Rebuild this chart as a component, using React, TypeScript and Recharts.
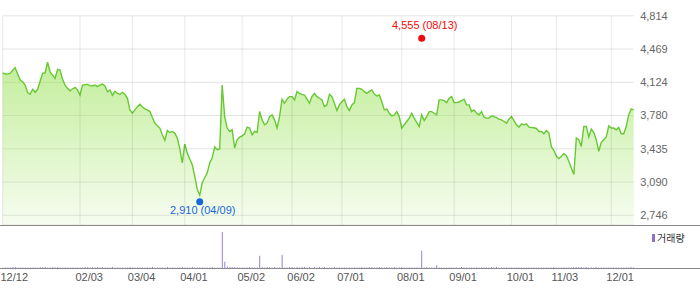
import { AreaChart, Area, BarChart, Bar, XAxis, YAxis, CartesianGrid, ReferenceDot, ReferenceLine, Legend } from 'recharts';

// closing prices, one per trading day (12/12 .. early 12/xx)
const prices = [
  4223, 4210, 4212, 4217, 4251, 4275, 4210, 4148, 4130, 4096,
  4017, 4000, 4052, 4021, 4052, 4135, 4217, 4223, 4333, 4233,
  4199, 4165, 4258, 4251, 4155, 4096, 4062, 4037, 4055, 4072,
  4045, 3993, 4096, 4100, 4103, 4090, 4086, 4096, 4079, 4096,
  4106, 4086, 4027, 4045, 3990, 4031, 4010, 4000, 4021, 4000,
  3959, 3838, 3804, 3838, 3872, 3897, 3872, 3849, 3838, 3821,
  3759, 3701, 3673, 3650, 3581, 3522, 3625, 3604, 3615, 3598,
  3547, 3440, 3289, 3485, 3392, 3330, 3271, 3151, 3014, 2955,
  3083, 3135, 3186, 3289, 3341, 3454, 3426, 3433, 4096, 3769,
  3650, 3615, 3632, 3444, 3529, 3557, 3570, 3591, 3660, 3650,
  3581, 3615, 3604, 3821, 3735, 3684, 3701, 3769, 3787, 3735,
  3650, 3769, 3949, 3907, 3949, 3976, 3976, 3942, 4027, 4010,
  4000, 3993, 3949, 3907, 3976, 4010, 3976, 3959, 3942, 3872,
  3890, 4000, 3976, 3907, 3831, 3890, 3924, 3949, 3872, 3831,
  3890, 3914, 4062, 4062, 4052, 4027, 4010, 4030, 4045, 4003,
  3983, 3993, 3924, 3838, 3846, 3804, 3777, 3787, 3821, 3769,
  3650, 3684, 3718, 3753, 3804, 3753, 3708, 3666, 3787, 3728,
  3769, 3821, 3821, 3804, 3787, 3942, 3942, 3934, 3914, 3959,
  3976, 3914, 3914, 3920, 3934, 3949, 3890, 3890, 3821, 3838,
  3804, 3787, 3821, 3763, 3753, 3753, 3777, 3769, 3759, 3742,
  3735, 3718, 3701, 3742, 3769, 3728, 3684, 3660, 3694, 3684,
  3694, 3660, 3656, 3653, 3646, 3615, 3615, 3591, 3625, 3598,
  3454, 3419, 3357, 3333, 3357, 3385, 3364, 3305, 3237, 3168,
  3547, 3529, 3460, 3666, 3666, 3557, 3639, 3604, 3529, 3409,
  3502, 3529, 3557, 3673, 3650, 3650, 3632, 3656, 3591, 3591,
  3666, 3787, 3849, 3838,
];

const volumes = [
  40, 40, 40, 40, 110, 110, 40, 40, 40, 40,
  40, 40, 40, 40, 40, 110, 110, 110, 40, 40,
  110, 40, 110, 40, 40, 40, 40, 40, 40, 40,
  40, 40, 40, 110, 110, 40, 110, 40, 110, 40,
  110, 40, 40, 40, 110, 40, 40, 40, 40, 40,
  40, 110, 40, 40, 40, 40, 40, 40, 40, 40,
  110, 40, 40, 40, 40, 40, 110, 40, 40, 40,
  40, 40, 110, 40, 40, 40, 110, 40, 40, 40,
  40, 40, 40, 40, 110, 40, 40, 40, 3600, 630,
  150, 110, 110, 110, 40, 40, 40, 40, 40, 110,
  40, 40, 40, 1230, 110, 40, 110, 110, 40, 110,
  40, 40, 1330, 40, 40, 110, 110, 40, 110, 40,
  110, 110, 40, 110, 40, 110, 40, 110, 40, 110,
  40, 40, 40, 110, 40, 40, 40, 40, 40, 40,
  40, 40, 40, 40, 110, 40, 40, 110, 110, 40,
  40, 110, 40, 40, 110, 40, 40, 110, 40, 40,
  110, 40, 40, 40, 40, 40, 40, 40, 1730, 40,
  110, 40, 40, 40, 270, 40, 40, 40, 40, 40,
  40, 40, 40, 40, 110, 40, 40, 40, 40, 40,
  40, 40, 40, 40, 40, 40, 110, 40, 110, 40,
  40, 40, 40, 40, 40, 40, 40, 40, 40, 40,
  40, 40, 40, 40, 40, 40, 40, 40, 40, 40,
  40, 110, 40, 40, 40, 40, 40, 40, 40, 110,
  110, 110, 110, 40, 110, 40, 40, 40, 110, 40,
  40, 40, 40, 40, 40, 40, 40, 40, 40, 40,
  40, 40, 110, 40,
];

const tickIndex = [0, 31, 52, 73, 96, 116, 136, 160, 181, 204, 222, 244];
const tickLabels = ['12/12', '02/03', '03/04', '04/01', '05/02', '06/02', '07/01', '08/01', '09/01', '10/01', '11/03', '12/01'];
const priceTicks = [2746, 3090, 3435, 3780, 4124, 4469, 4814];

const lowIndex = 79;
const lowValue = 2910;
const lowDate = '04/09';
const highIndex = 168;
const highValue = 4555;
const highDate = '08/13';

const data = prices.map((price, i) => ({ i, price, volume: volumes[i] }));

const fmt = (v: number) => v.toLocaleString('en-US');

function DateTick({ x, y, payload }: any) {
  const label = tickLabels[tickIndex.indexOf(payload.value)];
  return (
    <text x={Math.max(0.5, x - 4.5)} y={y + 9.3} dy="0.355em" textAnchor="start" fontSize={11} fill="#555">
      {label}
    </text>
  );
}

function Marker({ cx, cy, color, shift, labelShift, text }: any) {
  return (
    <g>
      <circle cx={cx} cy={cy + shift} r={3.5} fill={color} />
      <text x={cx + 3} y={cy + shift + labelShift} dy="0.355em" textAnchor="middle" fontSize={11} fill={color}>
        {text}
      </text>
    </g>
  );
}

function VolumeLegend({ payload }: any) {
  const item = payload && payload[0];
  return (
    <div style={{ display: 'flex', alignItems: 'center', height: 12, fontSize: 10, color: '#333', fontFamily: '"Noto Sans CJK KR", sans-serif' }}>
      <span style={{ display: 'inline-block', width: 3, height: 8, background: '#8e72c8', marginRight: 2 }} />
      <span>{item ? item.value : '거래량'}</span>
    </div>
  );
}

export default function App() {
  return (
    <div style={{ position: 'absolute', left: 0, top: 0, width: 700, height: 289, background: '#fff', fontFamily: '"Liberation Sans", Arial, sans-serif' }}>
      <AreaChart width={700} height={226} data={data} margin={{ top: 15.8, right: 0, bottom: 1, left: 2.7 }}>
        <defs>
          <linearGradient id="priceFill" x1="0" y1="0" x2="0" y2="1">
            <stop offset="0%" stopColor="#92e049" stopOpacity={0.55} />
            <stop offset="100%" stopColor="#92e049" stopOpacity={0.08} />
          </linearGradient>
        </defs>
        <CartesianGrid stroke="#e4e4e4" vertical={false} />
        <XAxis
          dataKey="i"
          ticks={tickIndex}
          interval={0}
          height={0}
          tick={false}
          axisLine={false}
          tickLine={false}
        />
        <YAxis
          orientation="right"
          width={66.3}
          domain={[2645, 4814]}
          ticks={priceTicks}
          interval={0}
          axisLine={false}
          tickLine={false}
          tickSize={0}
          tickMargin={6.5}
          tickFormatter={fmt}
          tick={{ fontSize: 11, fill: '#666' }}
        />
        <Area
          type="linear"
          dataKey="price"
          stroke="#66c932"
          strokeWidth={1.4}
          fill="url(#priceFill)"
          fillOpacity={1}
          dot={false}
          activeDot={false}
          isAnimationActive={false}
        />
        {tickIndex.map((t) => (
          <ReferenceLine key={t} x={t} stroke="#000" strokeOpacity={0.09} strokeWidth={1} />
        ))}
        <ReferenceDot
          x={lowIndex}
          y={lowValue}
          shape={(p: any) => <Marker {...p} color="#1767d8" shift={2.3} labelShift={8} text={`${fmt(lowValue)} (${lowDate})`} />}
        />
        <ReferenceDot
          x={highIndex}
          y={highValue}
          shape={(p: any) => <Marker {...p} color="#f00a0a" shift={-2.5} labelShift={-13.3} text={`${fmt(highValue)} (${highDate})`} />}
        />
      </AreaChart>
      <div style={{ position: 'absolute', left: 0, top: 225, width: 700, height: 1, background: '#8a8a8a' }} />
      <BarChart width={700} height={63} data={data} margin={{ top: 0, right: 65.45, bottom: 0, left: 1.45 }}>
        <XAxis
          dataKey="i"
          ticks={tickIndex}
          interval={0}
          height={21}
          axisLine={false}
          tickLine={false}
          tickSize={0}
          tickMargin={0}
          tick={<DateTick />}
        />
        <YAxis hide domain={[0, 4200]} />
        <Legend
          layout="horizontal"
          align="center"
          verticalAlign="middle"
          wrapperStyle={{ top: 5.5, left: 652, width: 'auto' }}
          content={<VolumeLegend />}
        />
        <Bar dataKey="volume" name="거래량" fill="#9a80d2" barSize={1} isAnimationActive={false} />
      </BarChart>
      <div style={{ position: 'absolute', left: 0, top: 268, width: 700, height: 1, background: '#8a8a8a' }} />
    </div>
  );
}
